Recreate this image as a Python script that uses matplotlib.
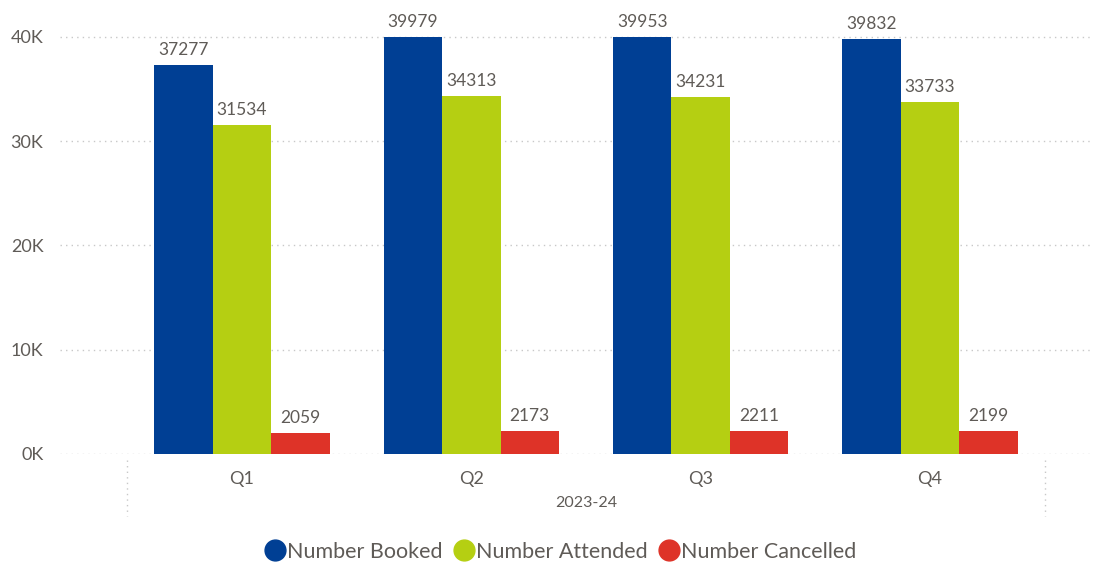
import numpy as np
import matplotlib
matplotlib.use("Agg")
import matplotlib.pyplot as plt
from matplotlib.lines import Line2D
import matplotlib.transforms as mtransforms

# Data
quarters = ["Q1", "Q2", "Q3", "Q4"]
period = "2023-24"
series_names = ["Number Booked", "Number Attended", "Number Cancelled"]
booked = [37277, 39979, 39953, 39832]
attended = [31534, 34313, 34231, 33733]
cancelled = [2059, 2173, 2211, 2199]
yticks = [0, 10000, 20000, 30000, 40000]
ytick_labels = ["0K", "10K", "20K", "30K", "40K"]

colors = ["#003F94", "#B5CF12", "#DE3328"]
text_color = "#5F5B57"

plt.rcParams["font.family"] = ["Lato", "DejaVu Sans"]

W, H = 1096, 566
fig = plt.figure(figsize=(W / 100, H / 100), dpi=100)
ax_left, ax_right = 60, 1090
ax_bottom, ax_top = 454, 16
ax = fig.add_axes([ax_left / W, 1 - ax_bottom / H, (ax_right - ax_left) / W, (ax_bottom - ax_top) / H])

x = np.arange(len(quarters))
bw = 0.255
all_series = [booked, attended, cancelled]
for i, (vals, c) in enumerate(zip(all_series, colors)):
    pos = x + (i - 1) * bw
    ax.bar(pos, vals, width=bw, color=c, zorder=3, linewidth=0)
    for px, v in zip(pos, vals):
        ax.annotate(f"{v}", (px, v), xytext=(0, 5), textcoords="offset points",
                    ha="center", va="bottom", fontsize=12.5, color=text_color,
                    annotation_clip=False)

ax.set_ylim(0, 42000)
ax.set_xlim(-0.794, 3.698)

for yt in yticks:
    ax.axhline(yt, color="#C8C8C8", linestyle=(0, (1, 3)), linewidth=1, zorder=1)

ax.set_yticks(yticks)
ax.set_yticklabels(ytick_labels)
ax.set_xticks(x)
ax.set_xticklabels(quarters)
ax.tick_params(axis="y", length=0, pad=12, labelsize=13, labelcolor=text_color)
ax.tick_params(axis="x", length=0, pad=12, labelsize=13, labelcolor=text_color)
for s in ax.spines.values():
    s.set_visible(False)

# Hierarchy separators and period label
trans = mtransforms.blended_transform_factory(ax.transData, fig.transFigure)
for xs in [-0.5, 3.5]:
    ax.add_line(Line2D([xs, xs], [1 - 460 / H, 1 - 516 / H], transform=trans,
                       color="#C8C8C8", linestyle=(0, (1, 3)), linewidth=1, clip_on=False))
ax.text(np.mean(x), 1 - 503 / H, period, transform=trans, ha="center", va="center",
        fontsize=11.5, color=text_color)

# Legend
handles = [Line2D([0], [0], marker="o", linestyle="none", markersize=15,
                  markerfacecolor=c, markeredgecolor=c) for c in colors]
fig.legend(handles, series_names, loc="center", bbox_to_anchor=(560 / W, 1 - 552 / H),
           ncol=3, frameon=False, fontsize=15.5, labelcolor=text_color,
           handletextpad=0.05, columnspacing=0.5, handlelength=1.0)

fig.savefig("out.png", dpi=100)
